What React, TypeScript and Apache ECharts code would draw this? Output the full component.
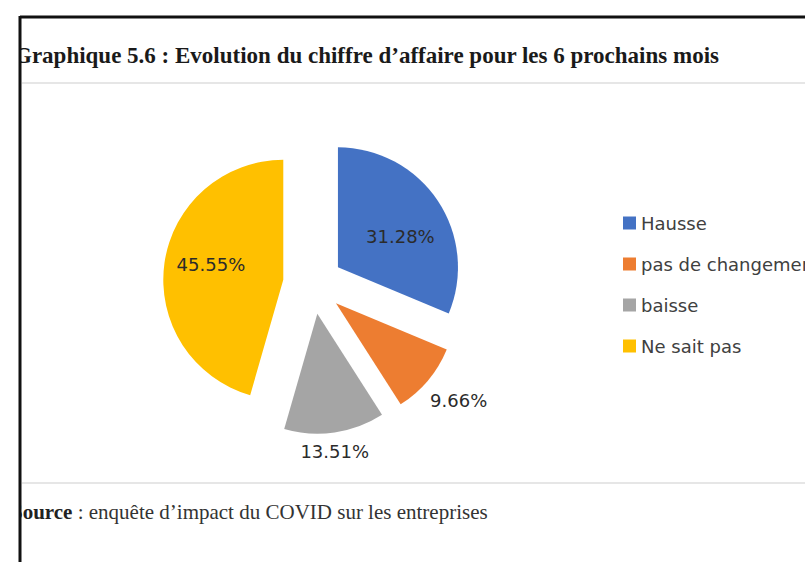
import React, { useEffect, useRef } from "react";
import * as echarts from "echarts";

const categories = ["Hausse", "pas de changement", "baisse", "Ne sait pas"];
const values = [31.28, 9.66, 13.51, 45.55];
const colors = ["#4472C4", "#ED7D31", "#A5A5A5", "#FFC000"];
const labelPositions = ["inside", "outside", "outside", "inside"];
const titleText = "Graphique 5.6 : Evolution du chiffre d\u2019affaire pour les 6 prochains mois";
const sourceLabel = "Source";
const sourceText = " : enqu\u00eate d\u2019impact du COVID sur les entreprises";

// label nudges (layout only)
const labelNudges = [
  [10, 4],
  [-12, 12],
  [-41, 7],
  [-10, -7],
];

export default function App() {
  const ref = useRef<HTMLDivElement>(null);
  useEffect(() => {
    if (!ref.current) return;
    const chart = echarts.init(ref.current, null, { renderer: "svg" });
    const data = categories.map((name, i) => ({
      name,
      value: values[i],
      selected: true,
      itemStyle: { color: colors[i] },
      label: { position: labelPositions[i] },
    }));
    chart.setOption({
      animation: false,
      backgroundColor: "#ffffff",
      legend: {
        orient: "vertical",
        left: 618,
        top: 209,
        itemWidth: 13,
        itemHeight: 13,
        itemGap: 23,
        icon: "rect",
        selectedMode: false,
        textStyle: { fontFamily: "DejaVu Sans", fontSize: 18, color: "#404040" },
        data: categories,
      },
      series: [
        {
          type: "pie",
          center: [313, 284],
          radius: 120,
          startAngle: 90,
          clockwise: true,
          selectedMode: "multiple",
          selectedOffset: 30,
          emphasis: { disabled: true },
          label: {
            show: true,
            formatter: (p: any) => p.value.toFixed(2) + "%",
            fontFamily: "DejaVu Sans",
            fontSize: 18,
            color: "#2b2b2b",
          },
          labelLine: { show: false, length: 12, length2: 0 },
          labelLayout: (p: any) => ({
            dx: labelNudges[p.dataIndex][0],
            dy: labelNudges[p.dataIndex][1],
          }),
          data,
        },
      ],
      graphic: [
        {
          type: "text",
          left: 14,
          top: 44,
          style: {
            text: titleText,
            font: "bold 23px 'Liberation Serif'",
            fill: "#1a1a1a",
          },
        },
        {
          type: "text",
          left: 11,
          top: 501,
          style: {
            text: "{b|" + sourceLabel + "}{n|" + sourceText + "}",
            rich: {
              b: { font: "bold 21px 'Liberation Serif'", fill: "#222" },
              n: { font: "21px 'Liberation Serif'", fill: "#333" },
            },
          },
        },
        { type: "rect", shape: { x: 0, y: 0, width: 19, height: 562 }, style: { fill: "#ffffff" }, z: 10 },
        { type: "line", shape: { x1: 22, y1: 83, x2: 805, y2: 83 }, style: { stroke: "#e6e6e6", lineWidth: 2 } },
        { type: "line", shape: { x1: 22, y1: 483, x2: 805, y2: 483 }, style: { stroke: "#e6e6e6", lineWidth: 2 } },
        { type: "line", shape: { x1: 20, y1: 17, x2: 805, y2: 17 }, style: { stroke: "#111", lineWidth: 3 }, z: 11 },
        { type: "line", shape: { x1: 20, y1: 16, x2: 20, y2: 562 }, style: { stroke: "#111", lineWidth: 3 }, z: 11 },
      ],
    });
    return () => chart.dispose();
  }, []);
  return (
    <div
      ref={ref}
      style={{ position: "fixed", left: 0, top: 0, width: 805, height: 562 }}
    />
  );
}
